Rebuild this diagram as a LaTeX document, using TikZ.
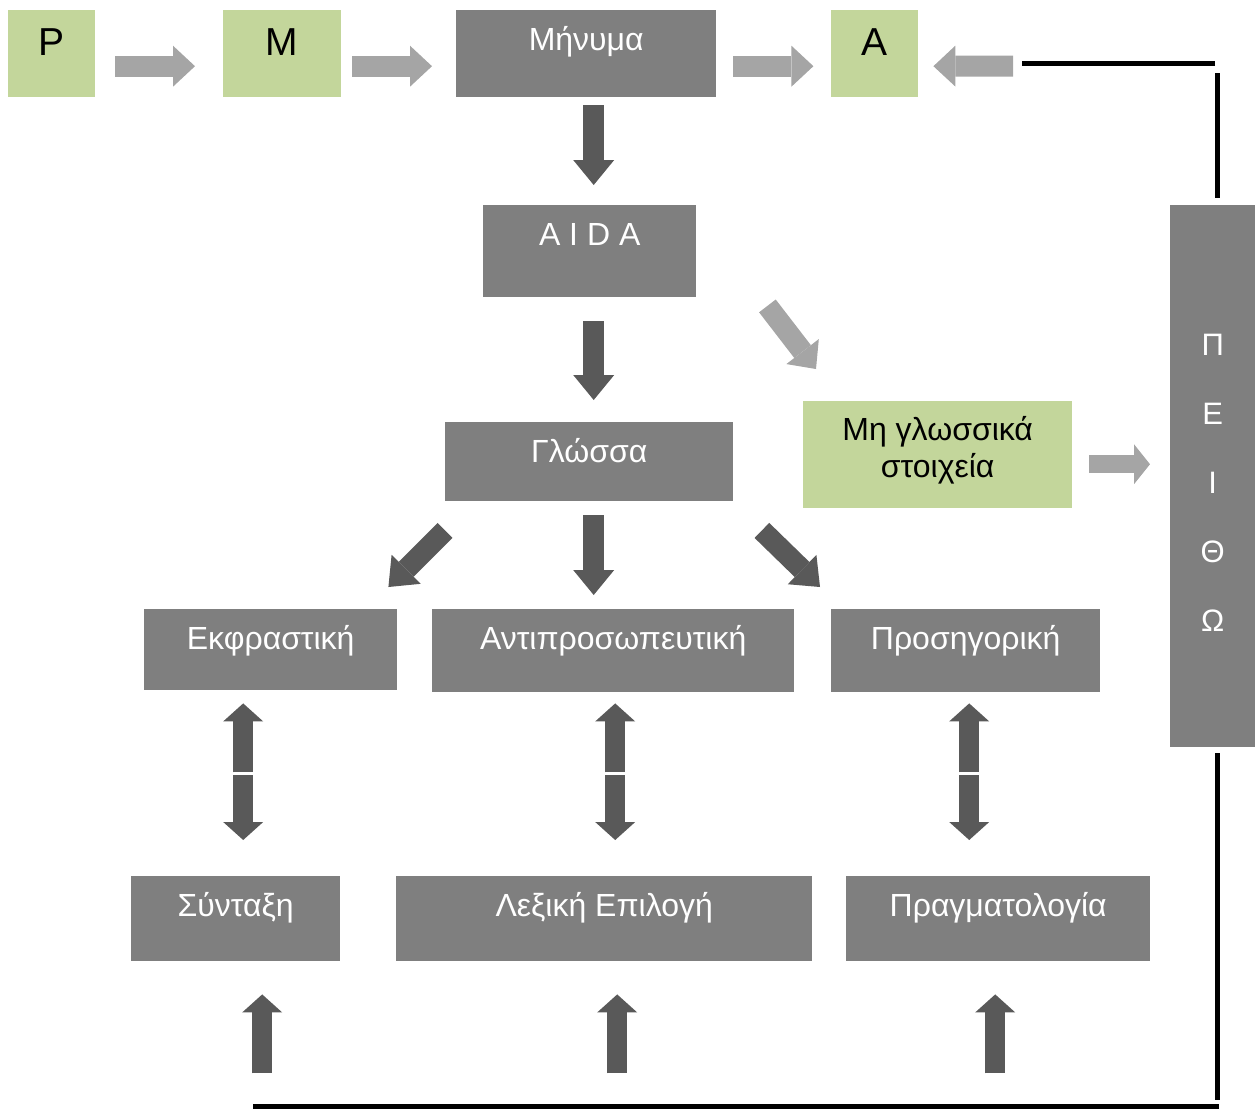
\documentclass[tikz,border=0pt]{standalone}
\usepackage{fontspec}
\setmainfont{Liberation Sans}
\usetikzlibrary{positioning, calc, arrows.meta}

\definecolor{boxgray}{HTML}{7F7F7F}
\definecolor{boxgreen}{HTML}{C3D69B}
\definecolor{arrowlight}{HTML}{A5A5A5}
\definecolor{arrowdark}{HTML}{595959}

\begin{document}
\begin{tikzpicture}[x=1pt, y=-1pt,
	box/.style={anchor=north west, inner sep=0pt, fill=boxgray, text=white,
		font=\fontsize{32}{37}\selectfont, text height=40pt},
	letter/.style={anchor=north west, inner sep=0pt, fill=boxgreen,
		font=\fontsize{39}{45}\selectfont, text height=45pt, text depth=42pt},
	lightarrow/.style={arrowlight, line width=21pt, -{Triangle[length=22pt, width=41pt, line width=0pt]}},
	darkarrow/.style={arrowdark, line width=21pt, -{Triangle[length=25pt, width=41pt, line width=0pt]}},
	smallarrow/.style={arrowdark, line width=20pt, -{Triangle[length=18pt, width=40pt, line width=0pt]}},
	frame/.style={line width=5pt}]
	\useasboundingbox (0,0) rectangle (1255,1109);
	
	% first row
	\node[letter, minimum width=87pt]  (P) at (8,10)   {P};
	\node[letter, minimum width=118pt] (M) at (223,10) {M};
	\node[box, minimum width=260pt, text depth=47pt] (minima) at (456,10) {Μήνυμα};
	\node[letter, minimum width=87pt]  (A) at (831,10) {A};
	
	\node[box, minimum width=213pt, text depth=52pt] (aida) at (483,205) {A I D A};
	\node[box, minimum width=288pt, text depth=39pt] (glossa) at (445,422) {Γλώσσα};
	\node[anchor=north west, inner sep=0pt, fill=boxgreen, minimum width=269pt, minimum height=107pt] (mig) at (803,401) {};
	\node[align=center, inner sep=0pt, font=\fontsize{32}{37}\selectfont] (migtext) at ($(mig.center)+(0,-4)$) {Μη γλωσσικά\\στοιχεία};
	
	\node[anchor=north west, inner sep=0pt, fill=boxgray, minimum width=85pt, minimum height=542pt] (peitho) at (1170,205) {};
	\foreach \l [count=\i from 0] in {Π,Ε,Ι,Θ,Ω}
		\node[inner sep=0pt, text=white, font=\fontsize{31}{37}\selectfont] (pl\i) at ($(peitho.north)+(0,140+69*\i)$) {\l};
	
	% functions
	\node[box, minimum width=253pt, text depth=41pt] (ekfr) at (144,609) {Εκφραστική};
	\node[box, minimum width=362pt, text depth=43pt] (antipr) at (432,609) {Αντιπροσωπευτική};
	\node[box, minimum width=269pt, text depth=43pt] (prosig) at (831,609) {Προσηγορική};
	
	\node[box, minimum width=209pt, text depth=45pt] (syntaxi) at (131,876) {Σύνταξη};
	\node[box, minimum width=416pt, text depth=45pt] (lexiki) at (396,876) {Λεξική Επιλογή};
	\node[box, minimum width=304pt, text depth=45pt] (pragm) at (846,876) {Πραγματολογία};
	
	% lines round the picture
	\draw[frame] ($(peitho.north)+(2.5,-142)$) -- ($(peitho.north)+(-190.5,-142)$);
	\draw[frame] ($(peitho.north)+(4.5,-132)$) -- ($(peitho.north)+(4.5,-7)$);
	\draw[frame] ($(peitho.south)+(4.5,6)$) -- ($(peitho.south)+(4.5,353)$);
	\draw[frame] ($(peitho.south)+(6.5,359)$) -- ($(peitho.south)+(-959.5,359)$);
	
	% arrows
	\draw[lightarrow] ($(P.east)+(20,12.5)$) -- ($(M.west)+(-28,12.5)$);
	\draw[lightarrow] ($(M.east)+(11,12.5)$) -- ($(minima.west)+(-24,12.5)$);
	\draw[lightarrow] ($(minima.east)+(17,12.5)$) -- ($(A.east)+(-105,12.5)$);
	\draw[lightarrow] ($(peitho.north)+(-199.5,-139)$) -- ($(A.east)+(15,12.5)$);
	
	\draw[darkarrow] ($(minima.south)+(7.5,8)$) -- ($(aida.north)+(4,-20)$);
	\draw[darkarrow] ($(aida.south)+(4,24)$) -- ($(glossa.north)+(4.5,-22)$);
	\draw[lightarrow] ($(aida.south east)+(71,8.5)$) -- ($(mig.north west)+(13,-32)$);
	\draw[lightarrow, line width=18pt, -{Triangle[length=16pt, width=40pt, line width=0pt]}]
		($(mig.east)+(17,9.5)$) -- ($(peitho.west)+(-20,-12)$);
	
	\draw[darkarrow] ($(glossa.south west)+(0,29)$) -- ($(ekfr.north east)+(-9,-22)$);
	\draw[darkarrow] ($(glossa.south)+(4.5,14)$) -- ($(antipr.north)+(-19.5,-14)$);
	\draw[darkarrow] ($(glossa.south east)+(28.5,29)$) -- ($(prosig.north west)+(-11,-22)$);
	
	\draw[smallarrow] ($(ekfr.south)+(-27.5,82)$) -- ($(ekfr.south)+(-27.5,13)$);
	\draw[smallarrow] ($(syntaxi.north)+(7.5,-101)$) -- ($(syntaxi.north)+(7.5,-36)$);
	\draw[smallarrow] ($(antipr.south)+(2,80)$) -- ($(antipr.south)+(2,11)$);
	\draw[smallarrow] ($(lexiki.north)+(11,-101)$) -- ($(lexiki.north)+(11,-36)$);
	\draw[smallarrow] ($(prosig.south)+(3.5,80)$) -- ($(prosig.south)+(3.5,11)$);
	\draw[smallarrow] ($(pragm.north)+(-29,-101)$) -- ($(pragm.north)+(-29,-36)$);
	
	\draw[smallarrow] ($(syntaxi.south)+(26.5,112)$) -- ($(syntaxi.south)+(26.5,33)$);
	\draw[smallarrow] ($(lexiki.south)+(13,112)$) -- ($(lexiki.south)+(13,33)$);
	\draw[smallarrow] ($(pragm.south)+(-3,112)$) -- ($(pragm.south)+(-3,33)$);
\end{tikzpicture}
\end{document}
